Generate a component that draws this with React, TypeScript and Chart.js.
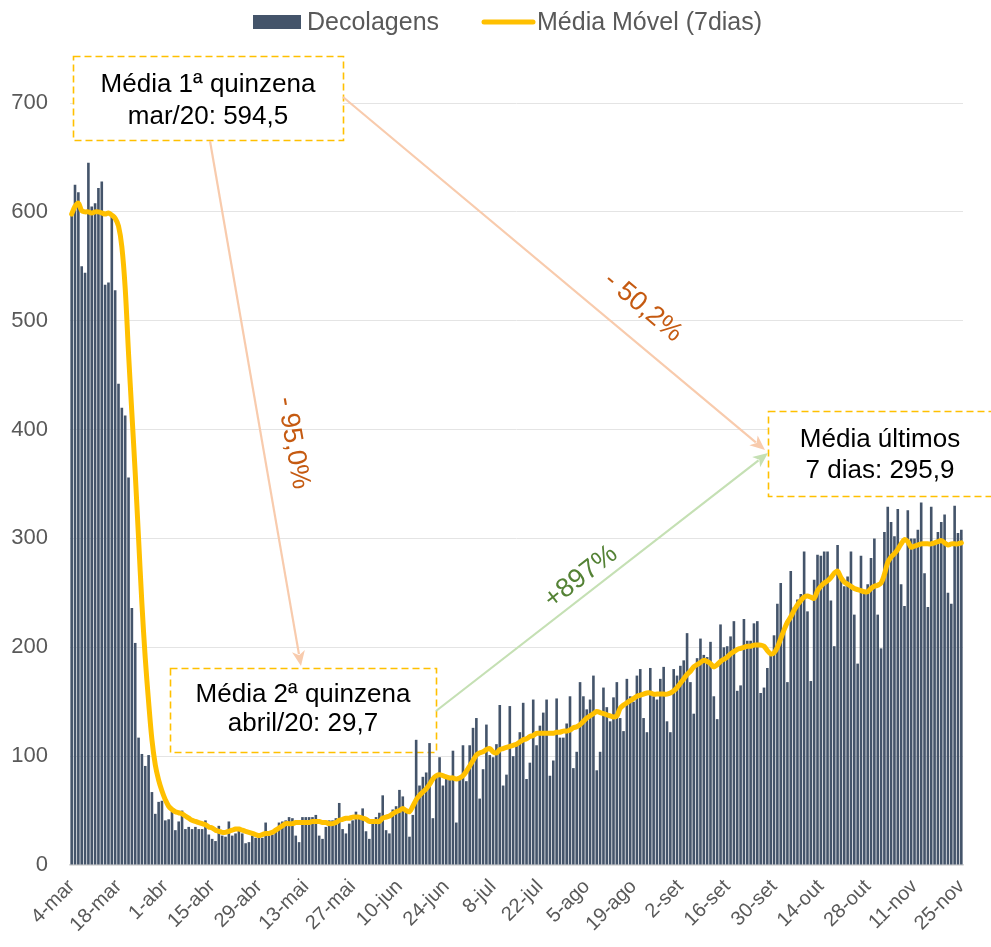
import React, { useEffect, useRef } from 'react';
import { Chart, registerables } from 'chart.js';

Chart.register(...registerables);

// ---- data ----
const DECOLAGENS = [
  597, 625, 618, 550, 544, 645, 605, 608, 622, 628,
  533, 535, 598, 528, 442, 420, 413, 356, 236, 204,
  117, 102, 91, 101, 67, 47, 58, 59, 41, 42,
  49, 32, 40, 50, 33, 35, 33, 35, 33, 33,
  41, 28, 24, 22, 36, 27, 26, 40, 27, 29,
  34, 29, 20, 21, 27, 25, 25, 25, 39, 27,
  28, 32, 39, 40, 41, 44, 43, 27, 21, 44,
  44, 44, 44, 46, 27, 24, 35, 41, 41, 43,
  57, 33, 29, 38, 41, 49, 44, 52, 31, 24,
  40, 44, 48, 64, 32, 29, 51, 54, 69, 63,
  49, 26, 46, 115, 73, 81, 85, 112, 43, 81,
  99, 73, 80, 78, 105, 39, 78, 110, 77, 110,
  126, 135, 61, 88, 129, 101, 99, 111, 147, 73,
  83, 146, 100, 111, 122, 149, 79, 94, 152, 110,
  128, 140, 152, 82, 96, 153, 117, 117, 130, 155,
  89, 104, 168, 155, 143, 152, 174, 87, 104, 163,
  145, 132, 154, 168, 135, 123, 171, 155, 150, 174,
  180, 135, 122, 181, 155, 152, 171, 182, 132, 122,
  180, 174, 183, 188, 213, 168, 139, 190, 208, 193,
  191, 205, 155, 134, 221, 200, 201, 210, 224, 160,
  165, 226, 206, 206, 222, 224, 158, 163, 181, 193,
  211, 240, 259, 215, 168, 270, 237, 244, 249, 288,
  233, 169, 262, 285, 284, 288, 288, 243, 201, 294,
  262, 256, 265, 288, 230, 185, 284, 250, 258, 282,
  300, 230, 199, 306, 329, 315, 302, 327, 258, 238,
  326, 300, 300, 308, 333, 268, 237, 329, 294, 306,
  315, 322, 250, 240, 330, 305, 308,
];

const MEDIA_MOVEL = [
  598, 605, 608, 601, 600, 600, 599, 600, 600, 599,
  598, 599, 597, 594, 587, 568, 530, 470, 415, 360,
  300, 240, 190, 150, 115, 92, 78, 68, 60, 54,
  51, 49, 48, 47, 45, 43, 41, 40, 39, 38,
  37, 35, 34, 32, 31, 30, 30, 31, 32, 33,
  33, 32, 31, 30, 29, 28, 27, 28, 29, 29,
  30, 32, 34, 36, 38, 38, 38, 39, 39, 39,
  39, 39, 40, 40, 40, 39, 39, 38, 38, 39,
  41, 42, 43, 43, 44, 44, 44, 43, 42, 40,
  40, 40, 40, 43, 44, 45, 47, 49, 50, 52,
  50, 49, 54, 60, 64, 67, 70, 74, 79, 82,
  83, 82, 81, 80, 80, 79, 80, 82, 86, 91,
  96, 101, 103, 104, 106, 107, 104, 103, 106, 107,
  108, 109, 110, 111, 113, 115, 116, 118, 119, 121,
  121, 121, 121, 121, 121, 122, 122, 123, 123, 124,
  126, 127, 129, 132, 135, 137, 139, 141, 140, 139,
  138, 137, 136, 137, 144, 147, 149, 151, 153, 155,
  156, 157, 158, 158, 157, 157, 157, 157, 157, 158,
  160, 163, 167, 171, 175, 178, 182, 184, 186, 188,
  187, 185, 182, 184, 187, 189, 191, 194, 196, 198,
  199, 200, 201, 201, 202, 202, 202, 201, 197, 194,
  195, 200, 208, 216, 223, 228, 234, 239, 243, 246,
  247, 246, 245, 252, 256, 259, 261, 264, 268, 270,
  264, 260, 258, 256, 254, 253, 252, 251, 251, 254,
  256, 257, 259, 267, 278, 283, 286, 290, 295, 299,
  297, 292, 293, 294, 295, 295, 295, 295, 296, 297,
  298, 296, 294, 295, 295, 295, 296,
];

const TICK_LABELS = [
  '4-mar', '18-mar', '1-abr', '15-abr', '29-abr', '13-mai', '27-mai', '10-jun', '24-jun', '8-jul',
  '22-jul', '5-ago', '19-ago', '2-set', '16-set', '30-set', '14-out', '28-out', '11-nov', '25-nov',
];
const TICK_EVERY = 14;

const MONTHS = ['mar', 'abr', 'mai', 'jun', 'jul', 'ago', 'set', 'out', 'nov'];
const MONTH_DAYS = [31, 30, 31, 30, 31, 31, 30, 31, 30];
const START_DAY = 4;

const Y_TICKS = [0, 100, 200, 300, 400, 500, 600, 700];

const NOTES = [
  { lines: ['Média 1ª quinzena', 'mar/20: 594,5'] },
  { lines: ['Média 2ª quinzena', 'abril/20: 29,7'] },
  { lines: ['Média últimos', '7 dias: 295,9'] },
];
const PCT_LABELS = ['- 50,2%', '- 95,0%', '+897%'];
const LEGEND_LABELS = ['Decolagens', 'Média Móvel (7dias)'];

function buildDays(): string[] {
  const out: string[] = [];
  let m = 0;
  let d = START_DAY;
  while (out.length < DECOLAGENS.length) {
    out.push(`${d}-${MONTHS[m]}`);
    d++;
    if (d > MONTH_DAYS[m]) { d = 1; m++; }
  }
  return out;
}

// ---- styling / layout ----
const FONT = '"Liberation Sans", Arial, Helvetica, sans-serif';
const BAR_COLOR = '#44546A';
const LINE_COLOR = '#FFC000';
const TEXT_GRAY = '#595959';

const BOXES = [
  { x: 73, y: 56, w: 270, h: 84, cx: 208, ly: [85, 117] },
  { x: 170, y: 668, w: 266, h: 84, cx: 303, ly: [695, 724] },
  { x: 768, y: 411, w: 240, h: 85, cx: 880, ly: [440, 471] },
];
const ARROWS = [
  { x1: 343, y1: 97, x2: 765, y2: 450, color: '#F8CBAD' },
  { x1: 210, y1: 141, x2: 301, y2: 666, color: '#F8CBAD' },
  { x1: 436, y1: 711, x2: 768, y2: 453, color: '#C5E0B4' },
];
const PCT_POS = [
  { x: 643, y: 307, ang: 40, color: '#C55A11' },
  { x: 293, y: 443, ang: 80, color: '#C55A11' },
  { x: 581, y: 577, ang: -38, color: '#548235' },
];

function drawArrow(ctx: CanvasRenderingContext2D, a: any) {
  const ang = Math.atan2(a.y2 - a.y1, a.x2 - a.x1);
  const head = 15;
  const half = 6.5;
  const bx = a.x2 - Math.cos(ang) * head;
  const by = a.y2 - Math.sin(ang) * head;
  ctx.save();
  ctx.strokeStyle = a.color;
  ctx.fillStyle = a.color;
  ctx.lineWidth = 2.2;
  ctx.beginPath();
  ctx.moveTo(a.x1, a.y1);
  ctx.lineTo(bx + Math.cos(ang) * 3, by + Math.sin(ang) * 3);
  ctx.stroke();
  ctx.beginPath();
  ctx.moveTo(a.x2, a.y2);
  ctx.lineTo(bx - Math.sin(ang) * half, by + Math.cos(ang) * half);
  ctx.lineTo(bx + Math.cos(ang) * 4, by + Math.sin(ang) * 4);
  ctx.lineTo(bx + Math.sin(ang) * half, by - Math.cos(ang) * half);
  ctx.closePath();
  ctx.fill();
  ctx.restore();
}

const annotationPlugin = {
  id: 'annotations',
  beforeDatasetsDraw(chart: any) {
    const ctx: CanvasRenderingContext2D = chart.ctx;
    ctx.save();
    BOXES.forEach((b, i) => {
      ctx.fillStyle = '#ffffff';
      ctx.fillRect(b.x, b.y, b.w, b.h);
      ctx.setLineDash([7, 4]);
      ctx.strokeStyle = LINE_COLOR;
      ctx.lineWidth = 1.6;
      ctx.strokeRect(b.x + 0.5, b.y + 0.5, b.w, b.h);
      ctx.setLineDash([]);
      ctx.fillStyle = '#000000';
      ctx.font = `26px ${FONT}`;
      ctx.textAlign = 'center';
      ctx.textBaseline = 'middle';
      NOTES[i].lines.forEach((t, j) => ctx.fillText(t, b.cx, b.ly[j]));
    });
    ctx.restore();
  },
  afterDatasetsDraw(chart: any) {
    const ctx: CanvasRenderingContext2D = chart.ctx;
    ARROWS.forEach((a) => drawArrow(ctx, a));
    PCT_POS.forEach((p, i) => {
      ctx.save();
      ctx.translate(p.x, p.y);
      ctx.rotate((p.ang * Math.PI) / 180);
      ctx.fillStyle = p.color;
      ctx.font = `27px ${FONT}`;
      ctx.textAlign = 'center';
      ctx.textBaseline = 'middle';
      ctx.fillText(PCT_LABELS[i], 0, 0);
      ctx.restore();
    });
  },
  afterDraw(chart: any) {
    const ctx: CanvasRenderingContext2D = chart.ctx;
    ctx.save();
    ctx.fillStyle = BAR_COLOR;
    ctx.fillRect(253, 15, 48, 14);
    ctx.strokeStyle = LINE_COLOR;
    ctx.lineWidth = 5;
    ctx.lineCap = 'round';
    ctx.beginPath();
    ctx.moveTo(484, 22);
    ctx.lineTo(533, 22);
    ctx.stroke();
    ctx.fillStyle = TEXT_GRAY;
    ctx.font = `25px ${FONT}`;
    ctx.textAlign = 'left';
    ctx.textBaseline = 'middle';
    ctx.fillText(LEGEND_LABELS[0], 307, 23);
    ctx.fillText(LEGEND_LABELS[1], 537, 23);
    ctx.restore();
  },
};

export default function App() {
  const canvasRef = useRef<HTMLCanvasElement | null>(null);

  useEffect(() => {
    const canvas = canvasRef.current;
    if (!canvas) return;
    const days = buildDays();
    const chart = new Chart(canvas, {
      type: 'bar',
      data: {
        labels: days,
        datasets: [
          {
            type: 'line',
            label: LEGEND_LABELS[1],
            data: MEDIA_MOVEL,
            borderColor: LINE_COLOR,
            backgroundColor: LINE_COLOR,
            borderWidth: 5,
            pointRadius: 0,
            tension: 0.35,
            borderCapStyle: 'round',
            borderJoinStyle: 'round',
            order: 1,
          } as any,
          {
            type: 'bar',
            label: LEGEND_LABELS[0],
            data: DECOLAGENS,
            backgroundColor: BAR_COLOR,
            barPercentage: 0.78,
            categoryPercentage: 1,
            order: 2,
          } as any,
        ],
      },
      options: {
        animation: false,
        responsive: false,
        devicePixelRatio: 1,
        layout: { padding: { left: 0, right: 28, top: 103, bottom: 0 } },
        plugins: {
          legend: { display: false },
          tooltip: { enabled: false },
        },
        scales: {
          x: {
            grid: { display: false },
            border: { display: true, color: '#D9D9D9', width: 1.5 },
            ticks: {
              autoSkip: false,
              minRotation: 45,
              maxRotation: 45,
              color: TEXT_GRAY,
              padding: 2,
              font: { family: FONT, size: 20 },
              callback: (_v: any, i: number) =>
                i % TICK_EVERY === 0 ? TICK_LABELS[i / TICK_EVERY] : null,
            },
            afterFit: (s: any) => { s.height = 82; },
          },
          y: {
            min: Y_TICKS[0],
            max: Y_TICKS[Y_TICKS.length - 1],
            grid: { color: '#E4E4E4', drawTicks: false },
            border: { display: false },
            ticks: {
              stepSize: 100,
              color: TEXT_GRAY,
              padding: 22,
              font: { family: FONT, size: 22 },
            },
            afterFit: (s: any) => { s.width = 70; },
          },
        },
      } as any,
      plugins: [annotationPlugin],
    });
    return () => chart.destroy();
  }, []);

  return (
    <div style={{ position: 'fixed', left: 0, top: 0, width: 991, height: 947, background: '#ffffff' }}>
      <canvas ref={canvasRef} width={991} height={947} />
    </div>
  );
}
